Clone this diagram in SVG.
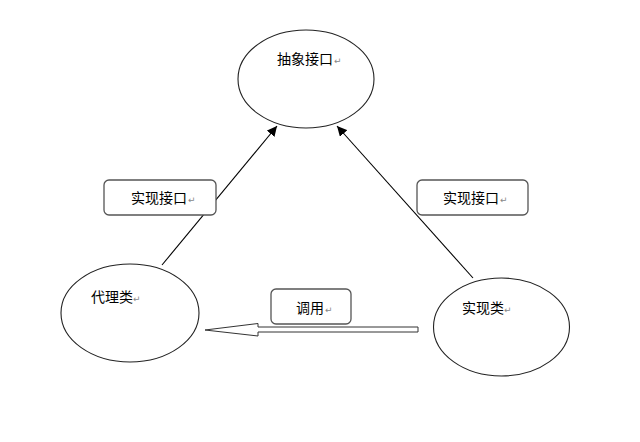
<svg xmlns="http://www.w3.org/2000/svg" width="640" height="442" viewBox="0 0 640 442">
<defs>
<style>
.node{fill:#fff;stroke:#222;stroke-width:1.1}
.lbl{fill:#fff;stroke:#555;stroke-width:1.3}
.t{font-family:"Noto Sans CJK SC","Noto Sans CJK JP",sans-serif;font-size:14px;fill:#000}
.rt{font-family:"DejaVu Sans",sans-serif;font-size:9px;fill:#888}
.edge{stroke:#000;stroke-width:1.1;fill:none}
</style>
<marker id="ah" viewBox="0 0 10 10" refX="10" refY="5" markerWidth="10" markerHeight="10" markerUnits="userSpaceOnUse" orient="auto">
<path d="M0,0 L10,5 L0,10 z" fill="#000"/>
</marker>
</defs>
<rect width="640" height="442" fill="#fff"/>
<g id="connectors">
<line class="edge" x1="162" y1="265" x2="277" y2="126" marker-end="url(#ah)"/>
<line class="edge" x1="473" y1="278" x2="337" y2="126" marker-end="url(#ah)"/>
<polygon points="418,327 258,327 258,323.5 205,330 258,336 258,332 418,332" fill="#fff" stroke="#333" stroke-width="1"/>
</g>
<g id="abstract">
<ellipse class="node" cx="306" cy="79" rx="68" ry="49"/>
<text class="t" x="277" y="64">抽象接口</text><text class="rt" x="334" y="64">↵</text>
</g>
<g id="proxy">
<ellipse class="node" cx="130" cy="313" rx="69" ry="49"/>
<text class="t" x="91" y="302">代理类</text><text class="rt" x="133" y="302">↵</text>
</g>
<g id="impl">
<ellipse class="node" cx="501.5" cy="327" rx="68" ry="49"/>
<text class="t" x="462" y="313">实现类</text><text class="rt" x="504" y="313">↵</text>
</g>
<g id="label-left">
<rect class="lbl" x="104" y="180" width="112" height="35" rx="5"/>
<text class="t" x="131" y="203">实现接口</text><text class="rt" x="188" y="203">↵</text>
</g>
<g id="label-right">
<rect class="lbl" x="417" y="180" width="111" height="35" rx="5"/>
<text class="t" x="443" y="203">实现接口</text><text class="rt" x="500" y="203">↵</text>
</g>
<g id="label-call">
<rect class="lbl" x="271" y="289" width="80" height="35" rx="5"/>
<text class="t" x="296" y="313">调用</text><text class="rt" x="325" y="313">↵</text>
</g>
</svg>
